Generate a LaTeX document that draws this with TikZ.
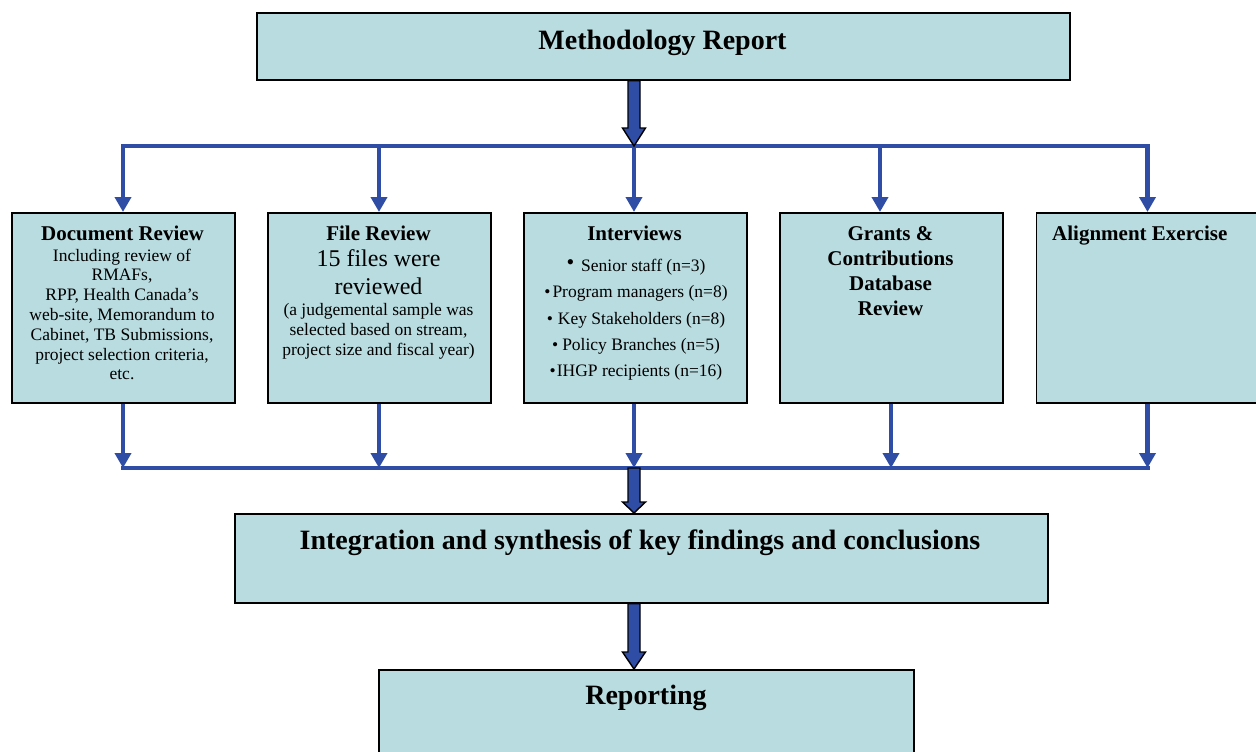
\documentclass[tikz,border=0pt]{standalone}
\usepackage{fontspec}
\setmainfont{Liberation Serif}
\usetikzlibrary{arrows.meta,calc}
\definecolor{boxfill}{RGB}{185,220,224}
\definecolor{lnblue}{RGB}{48,77,166}
\newcommand\bigdown[3]{%
  \filldraw[bigarr] let \p1=(#1), \p2=(#2) in
    (\x1-6pt,\y1) -- (\x1-6pt,\y2+#3) -- (\x1-11.5pt,\y2+#3) -- (\x2,\y2)
    -- (\x1+11.5pt,\y2+#3) -- (\x1+6pt,\y2+#3) -- (\x1+6pt,\y1) -- cycle;}
\begin{document}
\begin{tikzpicture}[x=1pt,y=-1pt,
  box/.style={draw=black,line width=1.6pt,fill=boxfill,anchor=north west,inner sep=0pt},
  conn/.style={draw=lnblue,line width=4.5pt},
  hconn/.style={conn,line cap=rect},
  tarr/.style={conn,-{Triangle[length=15pt,width=16pt]}},
  bigarr/.style={fill=lnblue,draw=black,line width=1.4pt,line join=miter},
  ttl/.style={font=\bfseries\fontsize{21}{24.8}\selectfont,inner sep=0pt,align=center,anchor=base},
  body/.style={font=\fontsize{17.5}{19.8}\selectfont,inner sep=0pt,align=center,anchor=base},
  big/.style={font=\bfseries\fontsize{28}{30}\selectfont,inner sep=0pt,anchor=base},
]
\useasboundingbox (0,0) rectangle (1256,752);
\clip (0,0) rectangle (1256,752);

% boxes
\node[box,minimum width=813,minimum height=67] (top) at (256,12) {};
\node[box,minimum width=223,minimum height=190] (doc) at (11,212) {};
\node[box,minimum width=223,minimum height=190] (file) at (267,212) {};
\node[box,minimum width=223,minimum height=190] (intv) at (523,212) {};
\node[box,minimum width=223,minimum height=190] (gc) at (779,212) {};
\node[box,minimum width=240,minimum height=190] (align) at (1035.5,212) {};
\node[box,minimum width=813,minimum height=89] (integ) at (234,513) {};
\node[box,minimum width=535,minimum height=110] (rep) at (378,669) {};

% texts (multi-line nodes: base = baseline of last line)
\node[big] (tmr) at (662.5,50) {Methodology Report};
\node[ttl] (tdoc) at (122.5,240.7) {Document Review};
\node[body] (bdoc) at (122,379.8) {Including review of\\RMAFs,\\RPP, Health Canada’s\\web-site, Memorandum to\\Cabinet, TB Submissions,\\project selection criteria,\\etc.};
\node[ttl] (tfile) at (378.5,240.7) {File Review};
\node[body,font=\fontsize{24}{27.3}\selectfont] (nfile) at (378.5,294) {15 files were\\reviewed};
\node[body] (bfile) at (378.5,355) {(a judgemental sample was\\selected based on stream,\\project size and fiscal year)};
\node[ttl] (tintv) at (634.5,240.7) {Interviews};
\node[body,font=\fontsize{17.5}{26.2}\selectfont] (bintv) at (636,376.5) {%
  \raisebox{2pt}{\fontsize{22}{22}\selectfont\textbullet}\hspace{7pt}Senior staff (n=3)\\
  \textbullet\hspace{2pt}Program managers (n=8)\\
  \textbullet\hspace{5pt}Key Stakeholders (n=8)\\
  \textbullet\hspace{4pt}Policy Branches (n=5)\\
  \textbullet\hspace{1pt}IHGP recipients (n=16)};
\node[ttl] (tgc) at (890.5,315.1) {Grants \&\\Contributions\\Database\\Review};
\node[ttl,anchor=base west] (talign) at (1052,240.7) {Alignment Exercise};
\node[big] (tinteg) at (640,549) {Integration and synthesis of key findings and conclusions};
\node[big] (trep) at (646,704) {Reporting};

% junction coordinates
\coordinate (tl) at (123,146);
\coordinate (t2) at (379,146);
\coordinate (jt) at (634,146);
\coordinate (t4) at (880,146);
\coordinate (tr) at (1147.5,146);
\coordinate (bl) at (123,468);
\coordinate (b2) at (379,468);
\coordinate (jb) at (634,468);
\coordinate (b4) at (891,468);
\coordinate (br) at (1147.5,468);

% distribution lines
\draw[hconn] (tl) -- (tr);
\draw[tarr] (tl) -- (tl |- doc.north);
\draw[tarr] (t2) -- (t2 |- file.north);
\draw[tarr] (jt) -- (jt |- intv.north);
\draw[tarr] (t4) -- (t4 |- gc.north);
\draw[tarr] (tr) -- (tr |- align.north);

% collection lines
\draw[hconn] (bl) -- (br);
\draw[tarr] (bl |- doc.south) -- (bl);
\draw[tarr] (b2 |- file.south) -- (b2);
\draw[tarr] (jb |- intv.south) -- (jb);
\draw[tarr] (b4 |- gc.south) -- (b4);
\draw[tarr] (br |- align.south) -- (br);

% big arrows
\bigdown{jt |- top.south}{jt}{18pt}
\bigdown{jb}{jb |- integ.north}{11pt}
\bigdown{jb |- integ.south}{jb |- rep.north}{17pt}
\end{tikzpicture}
\end{document}
